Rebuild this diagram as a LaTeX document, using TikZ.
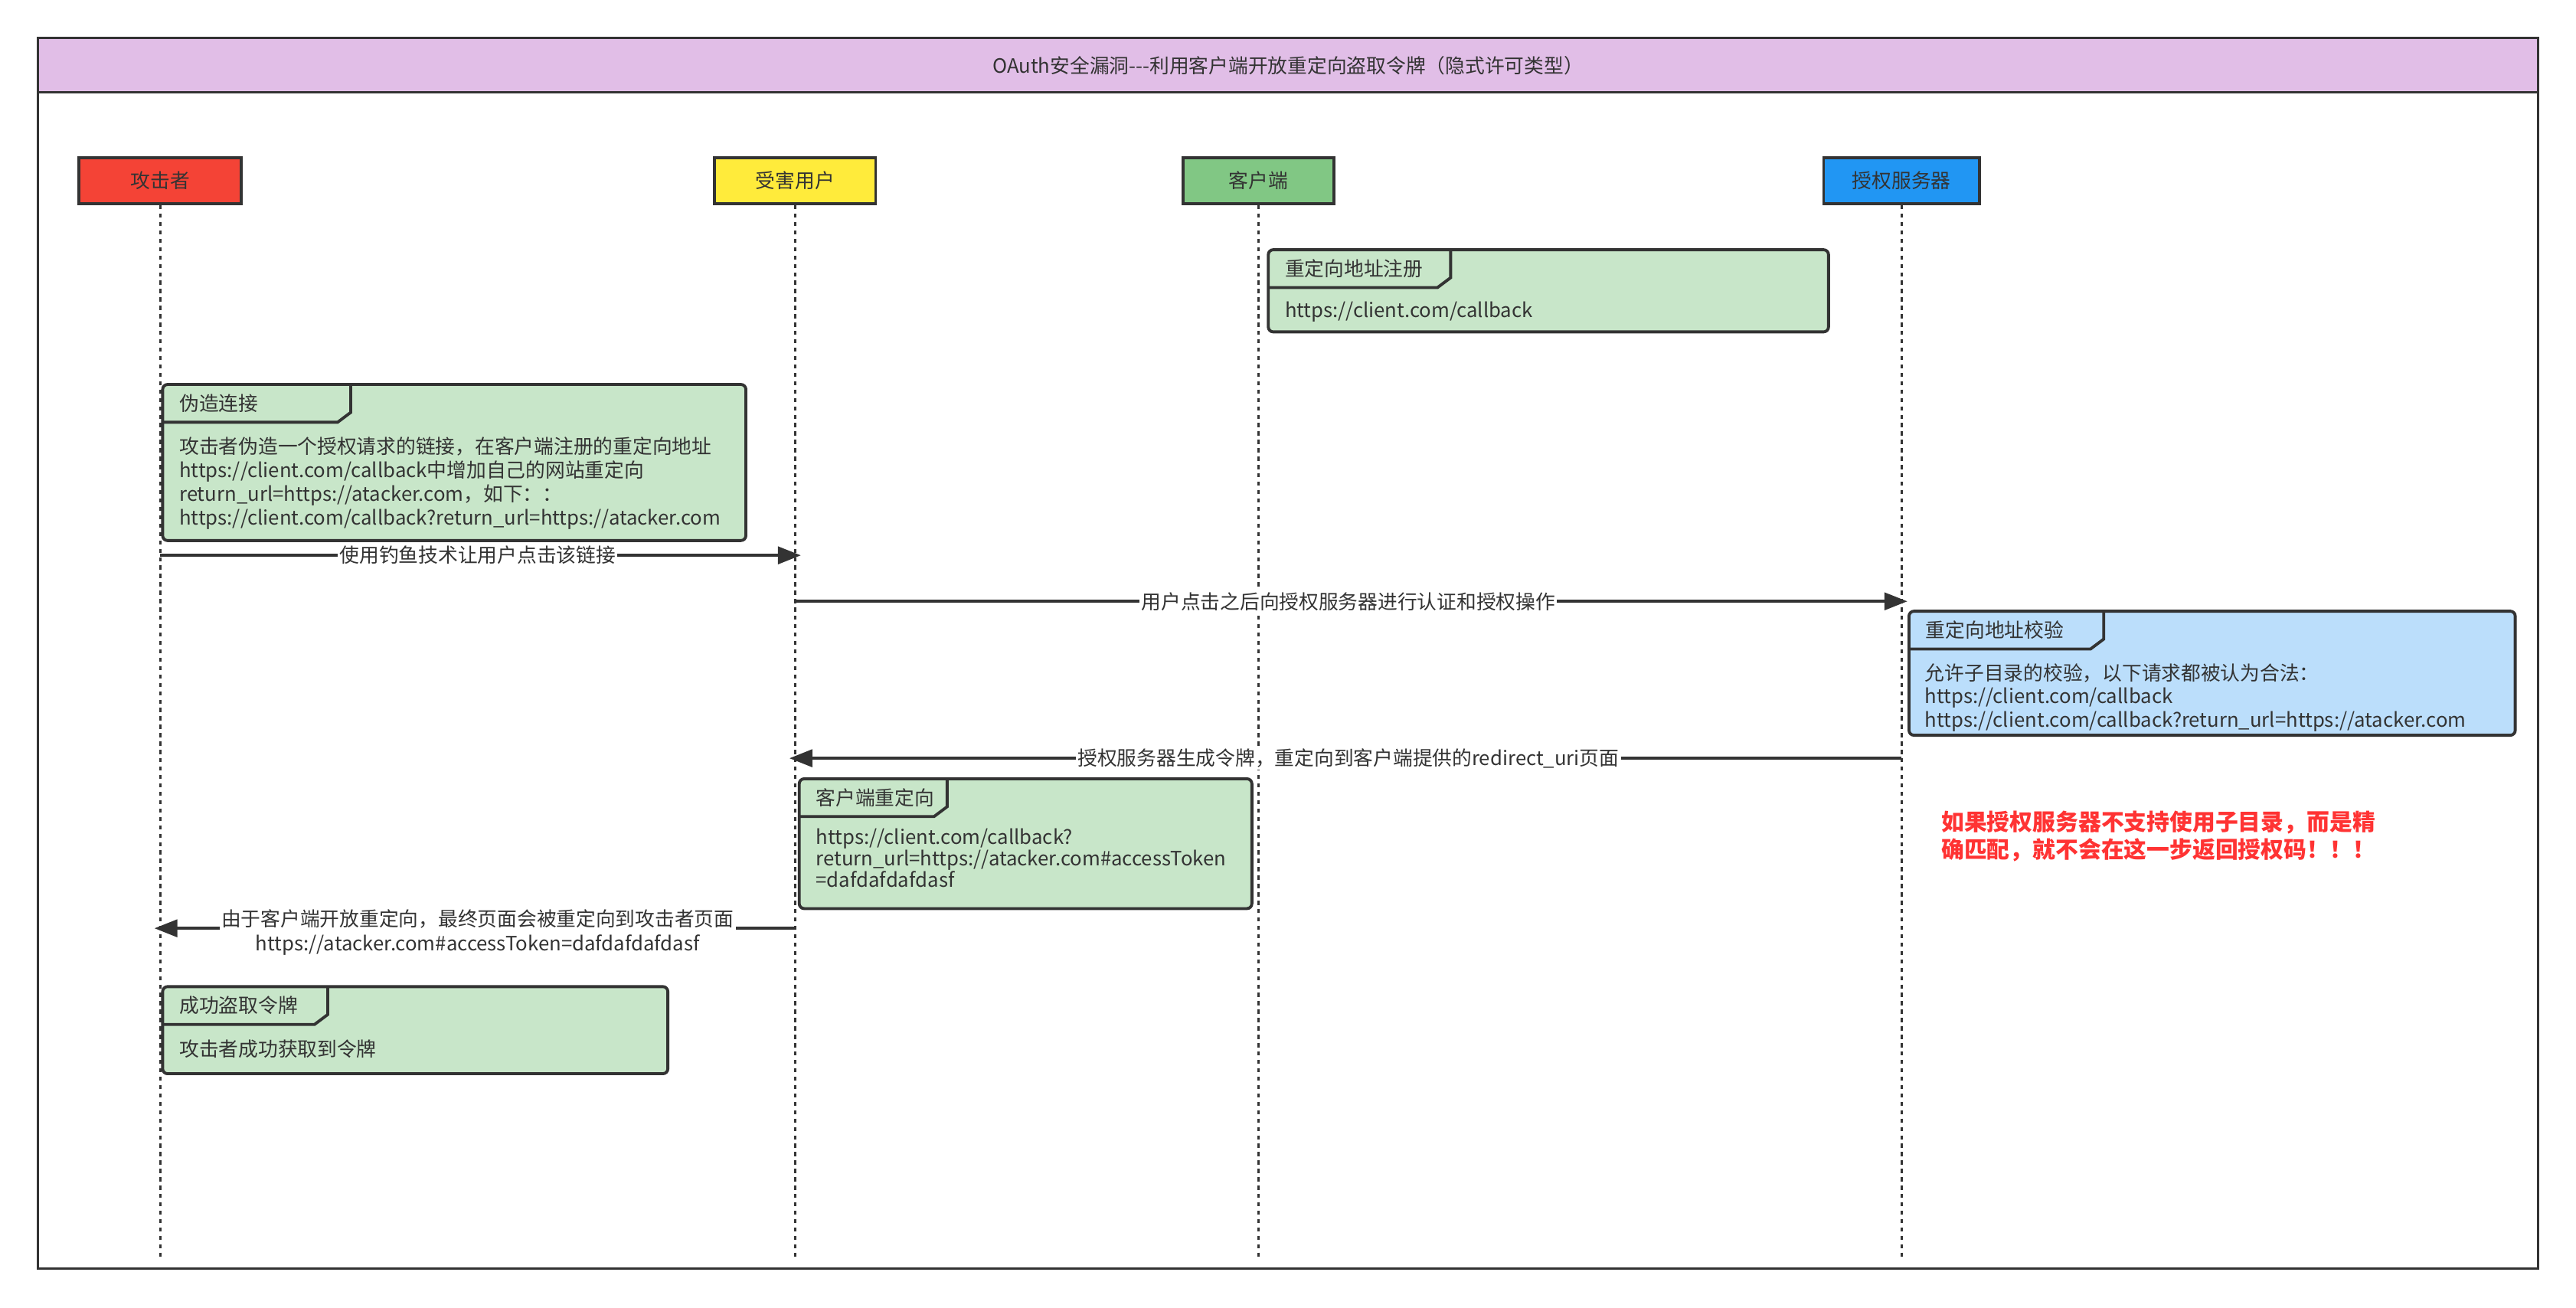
\documentclass[tikz,border=0pt]{standalone}
\usepackage{fontspec}
\newfontfamily\cjk{Noto Sans CJK SC}
\usetikzlibrary{arrows.meta}

\definecolor{linec}{HTML}{333333}
\definecolor{lila}{HTML}{E1BEE7}
\definecolor{atkred}{HTML}{F44336}
\definecolor{vicyellow}{HTML}{FFEB3B}
\definecolor{cligreen}{HTML}{81C784}
\definecolor{srvblue}{HTML}{2196F3}
\definecolor{notegreen}{HTML}{C8E6C9}
\definecolor{noteblue}{HTML}{BBDEFB}
\definecolor{warnred}{HTML}{FF3333}

\newcommand{\fs}[2]{\fontsize{#1}{#2}\selectfont}

\tikzset{
  frame/.style={draw=linec, line width=1.5pt},
  actor/.style={draw=linec, line width=1.8pt, minimum height=28pt, inner sep=0pt,
    font=\cjk\fs{12}{14}, text=linec},
  lifeline/.style={draw=linec, line width=1.5pt, dash pattern=on 2.5pt off 2.6pt},
  msg/.style={draw=linec, line width=1.9pt, shorten >=-3.5pt, -{Triangle[length=14pt, width=10.5pt]}},
  lbl/.style={fill=white, inner sep=1pt, font=\cjk\fs{12}{14.5}, text=linec},
  notebody/.style={draw=linec, line width=1.8pt, rounded corners=3pt},
  notetitle/.style={anchor=west, inner sep=0pt, font=\cjk\fs{12}{14}, text=linec},
  notetext/.style={anchor=west, align=left, inner sep=0pt, font=\cjk\fs{12}{14.4}, text=linec},
  warn/.style={anchor=west, align=left, inner sep=0pt, font=\cjk\bfseries\fs{13.9}{16.4}, text=warnred}
}

% note with a title tab: name, fill, NW corner, SE corner, tab width, title
\newcommand{\notebox}[6]{%
  \draw[notebody, fill=#2] (#3) rectangle (#4);
  \draw[notebody, rounded corners=0pt] (#3) ++(0,23) -- ++(#5-8,0) -- ++(8,-6) -- ++(0,-17);
  \node[notetitle] (#1-t) at (#3) [xshift=10pt, yshift=-11.5pt] {#6};
}

\begin{document}
\begin{tikzpicture}[x=1pt, y=-1pt]
  \useasboundingbox (0,0) rectangle (1568,796);

  % frame and title
  \draw[frame] (23,23) rectangle (1545,772);
  \draw[frame, fill=lila] (23,23) rectangle (1545,56);
  \node[font=\cjk\fs{12}{14}, text=linec] (title) at (784,40) {OAuth安全漏洞---利用客户端开放重定向盗取令牌（隐式许可类型）};

  % actors
  \node[actor, fill=atkred, minimum width=99pt] (atk) at (97.5,110) {攻击者};
  \node[actor, fill=vicyellow, minimum width=98pt] (vic) at (484,110) {受害用户};
  \node[actor, fill=cligreen, minimum width=92pt] (cli) at (766,110) {客户端};
  \node[actor, fill=srvblue, minimum width=95pt] (srv) at (1157.5,110) {授权服务器};

  % lifelines
  \coordinate (lifeend) at (0,766);
  \foreach \a in {atk,vic,cli,srv}
    \draw[lifeline] (\a.south) -- (\a.south |- lifeend);

  % notes
  \notebox{reg}{notegreen}{772,152}{1113,202}{111}{重定向地址注册}
  \node[notetext] (reg-b) at (782,190) {https://client.com/callback};

  \notebox{fake}{notegreen}{99,234}{454,329}{114.5}{伪造连接}
  \node[notetext] (fake-b) at (109,294) {攻击者伪造一个授权请求的链接，在客户端注册的重定向地址\\https://client.com/callback中增加自己的网站重定向\\return\_url=https://atacker.com，如下：：\\https://client.com/callback?return\_url=https://atacker.com};

  \notebox{check}{noteblue}{1162,372}{1531,447.5}{118.5}{重定向地址校验}
  \node[notetext] (check-b) at (1171.5,424.6) {允许子目录的校验，以下请求都被认为合法：\\https://client.com/callback\\https://client.com/callback?return\_url=https://atacker.com};

  \notebox{redir}{notegreen}{486.5,474}{762,553}{90}{客户端重定向}
  \node[notetext, font=\cjk\fs{12}{13}] (redir-b) at (496.5,522.4) {https://client.com/callback?\\return\_url=https://atacker.com\#accessToken\\=dafdafdafdasf};

  \notebox{done}{notegreen}{99,600.5}{406.5,653.5}{100.5}{成功盗取令牌}
  \node[notetext] (done-b) at (109,638.6) {攻击者成功获取到令牌};

  % messages
  \coordinate (m1) at (0,338);
  \draw[msg] (atk |- m1) -- node[lbl] (m1-l) {使用钓鱼技术让用户点击该链接} (vic |- m1);
  \coordinate (m2) at (0,366);
  \draw[msg] (vic |- m2) -- node[lbl] (m2-l) {用户点击之后向授权服务器进行认证和授权操作} (srv |- m2);
  \coordinate (m3) at (0,461.5);
  \draw[msg] (srv |- m3) -- node[lbl] (m3-l) {授权服务器生成令牌，重定向到客户端提供的redirect\_uri页面} (vic |- m3);
  \coordinate (m4) at (0,565);
  \draw[msg] (vic |- m4) -- node[lbl, align=center, yshift=-2.5pt] (m4-l) {由于客户端开放重定向，最终页面会被重定向到攻击者页面\\https://atacker.com\#accessToken=dafdafdafdasf} (atk |- m4);

  % remark
  \node[warn] (warn) at (1181.5,509) {如果授权服务器不支持使用子目录，而是精\\确匹配，就不会在这一步返回授权码！！！};
\end{tikzpicture}
\end{document}
